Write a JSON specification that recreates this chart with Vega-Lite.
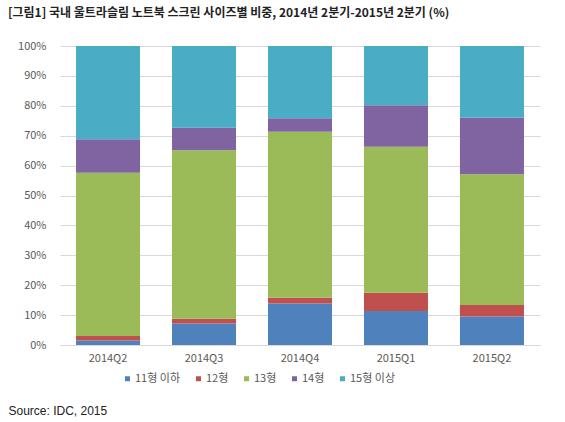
{
  "$schema": "https://vega.github.io/schema/vega-lite/v6.json",
  "autosize": {"type": "none"},
  "width": 480,
  "height": 299,
  "padding": {"left": 60, "top": 46, "right": 25, "bottom": 77},
  "title": {
    "text": "[그림1] 국내 울트라슬림 노트북 스크린 사이즈별 비중, 2014년 2분기-2015년 2분기 (%)",
    "anchor": "start",
    "frame": "group",
    "dx": -52,
    "offset": 20,
    "font": "Noto Sans CJK KR",
    "fontSize": 12,
    "fontWeight": "bold",
    "color": "#222222"
  },
  "data": {
    "values": [
      {"quarter": "2014Q2", "size": "11형 이하", "order": 1, "share": 1.5},
      {"quarter": "2014Q2", "size": "12형", "order": 2, "share": 1.5},
      {"quarter": "2014Q2", "size": "13형", "order": 3, "share": 54.6},
      {"quarter": "2014Q2", "size": "14형", "order": 4, "share": 11.2},
      {"quarter": "2014Q2", "size": "15형 이상", "order": 5, "share": 31.2},
      {"quarter": "2014Q3", "size": "11형 이하", "order": 1, "share": 7.2},
      {"quarter": "2014Q3", "size": "12형", "order": 2, "share": 1.6},
      {"quarter": "2014Q3", "size": "13형", "order": 3, "share": 56.3},
      {"quarter": "2014Q3", "size": "14형", "order": 4, "share": 7.6},
      {"quarter": "2014Q3", "size": "15형 이상", "order": 5, "share": 27.3},
      {"quarter": "2014Q4", "size": "11형 이하", "order": 1, "share": 13.9},
      {"quarter": "2014Q4", "size": "12형", "order": 2, "share": 1.9},
      {"quarter": "2014Q4", "size": "13형", "order": 3, "share": 55.5},
      {"quarter": "2014Q4", "size": "14형", "order": 4, "share": 4.5},
      {"quarter": "2014Q4", "size": "15형 이상", "order": 5, "share": 24.2},
      {"quarter": "2015Q1", "size": "11형 이하", "order": 1, "share": 11.4},
      {"quarter": "2015Q1", "size": "12형", "order": 2, "share": 6.1},
      {"quarter": "2015Q1", "size": "13형", "order": 3, "share": 48.8},
      {"quarter": "2015Q1", "size": "14형", "order": 4, "share": 13.9},
      {"quarter": "2015Q1", "size": "15형 이상", "order": 5, "share": 19.8},
      {"quarter": "2015Q2", "size": "11형 이하", "order": 1, "share": 9.5},
      {"quarter": "2015Q2", "size": "12형", "order": 2, "share": 3.9},
      {"quarter": "2015Q2", "size": "13형", "order": 3, "share": 43.7},
      {"quarter": "2015Q2", "size": "14형", "order": 4, "share": 18.9},
      {"quarter": "2015Q2", "size": "15형 이상", "order": 5, "share": 24.0}
    ]
  },
  "mark": {"type": "bar"},
  "encoding": {
    "x": {
      "field": "quarter",
      "type": "nominal",
      "sort": null,
      "scale": {"paddingInner": 0.333, "paddingOuter": 0.167},
      "axis": {
        "title": "Source: IDC, 2015",
        "titleX": -52,
        "titleY": 65,
        "titleAlign": "left",
        "titleAnchor": "start",
        "titleBaseline": "middle",
        "titleFont": "Liberation Sans",
        "titleFontSize": 12,
        "titleFontWeight": "normal",
        "titleColor": "#222222",
        "labelAngle": 0,
        "labelPadding": 7,
        "labelFont": "Noto Sans CJK KR",
        "labelFontSize": 11,
        "labelColor": "#595959",
        "ticks": false,
        "domainColor": "#d9d9d9"
      }
    },
    "y": {
      "field": "share",
      "type": "quantitative",
      "stack": "zero",
      "scale": {"domain": [0, 100], "nice": false},
      "axis": {
        "title": null,
        "values": [0, 10, 20, 30, 40, 50, 60, 70, 80, 90, 100],
        "labelExpr": "datum.value + '%'",
        "labelPadding": 14,
        "labelFont": "Noto Sans CJK KR",
        "labelFontSize": 11,
        "labelColor": "#595959",
        "ticks": false,
        "domain": false,
        "gridColor": "#d9d9d9"
      }
    },
    "order": {"field": "order", "type": "quantitative"},
    "color": {
      "field": "size",
      "type": "nominal",
      "scale": {
        "domain": ["11형 이하", "12형", "13형", "14형", "15형 이상"],
        "range": ["#4F81BD", "#C0504D", "#9BBB59", "#8064A2", "#4BACC6"]
      },
      "legend": {
        "title": null,
        "orient": "none",
        "legendX": 62,
        "legendY": 327,
        "direction": "horizontal",
        "symbolType": "square",
        "symbolSize": 25,
        "symbolStrokeWidth": 0,
        "labelOffset": 2,
        "columnPadding": 12,
        "labelFont": "Noto Sans CJK KR",
        "labelFontSize": 11,
        "labelColor": "#595959"
      }
    }
  },
  "config": {
    "view": {"stroke": null},
    "background": "white"
  }
}
